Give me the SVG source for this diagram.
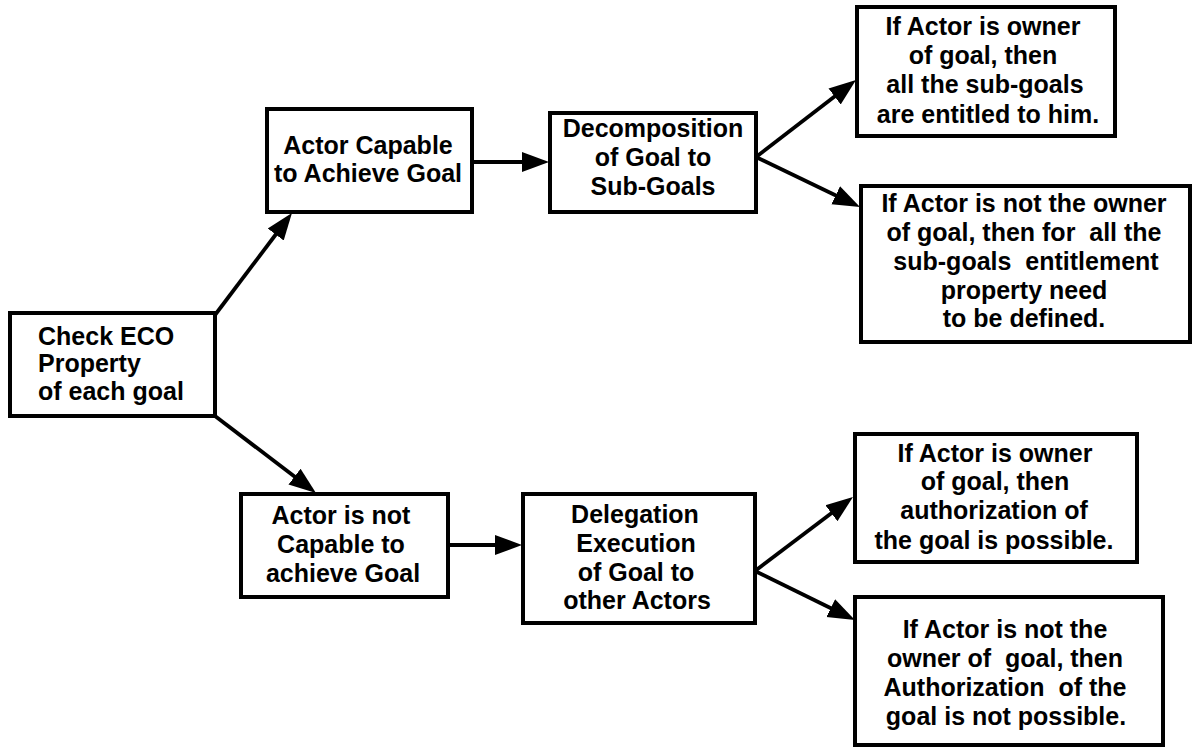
<svg xmlns="http://www.w3.org/2000/svg" width="1194" height="751" viewBox="0 0 1194 751">
  <style>
    .box { fill: #ffffff; stroke: #000000; stroke-width: 4; }
    .lbl { font-family: "Liberation Sans", Arial, sans-serif; font-size: 25px; font-weight: bold; fill: #000000; }
    .c { text-anchor: middle; }
    .edge { fill: none; stroke: #000000; stroke-width: 3.8; marker-end: url(#arrow); }
  </style>
  <defs>
    <marker id="arrow" markerUnits="userSpaceOnUse" markerWidth="30" markerHeight="22" refX="2" refY="11" orient="auto">
      <path d="M0,1 L27,11 L0,21 Z" fill="#000000"/>
    </marker>
  </defs>
  <rect width="1194" height="751" fill="#ffffff"/>

  <!-- connectors -->
  <g id="connectors">
    <line class="edge" x1="215" y1="315" x2="276.9" y2="233"/>
    <line class="edge" x1="215" y1="416" x2="296.1" y2="477.8"/>
    <line class="edge" x1="472" y1="162" x2="524" y2="162"/>
    <line class="edge" x1="756" y1="157" x2="836.2" y2="95.3"/>
    <line class="edge" x1="756" y1="157" x2="837.5" y2="196.2"/>
    <line class="edge" x1="448" y1="545" x2="497" y2="545"/>
    <line class="edge" x1="755" y1="571" x2="833" y2="512.1"/>
    <line class="edge" x1="755" y1="571" x2="832.5" y2="609"/>
  </g>

  <g id="check-eco">
    <rect class="box" x="10" y="313" width="205" height="103"/>
    <text class="lbl" x="38" y="345">Check ECO</text>
    <text class="lbl" x="38" y="372">Property</text>
    <text class="lbl" x="38" y="400">of each goal</text>
  </g>

  <g id="actor-capable">
    <rect class="box" x="267" y="109" width="205" height="103"/>
    <text class="lbl c" x="368" y="154">Actor Capable</text>
    <text class="lbl c" x="368" y="182">to Achieve Goal</text>
  </g>

  <g id="decomposition">
    <rect class="box" x="550" y="113" width="206" height="99"/>
    <text class="lbl c" x="653" y="137">Decomposition</text>
    <text class="lbl c" x="653" y="166">of Goal to</text>
    <text class="lbl c" x="653" y="195">Sub-Goals</text>
  </g>

  <g id="owner-entitled">
    <rect class="box" x="857" y="7" width="258" height="129"/>
    <text class="lbl c" x="983" y="35">If Actor is owner</text>
    <text class="lbl c" x="983" y="64">of goal, then</text>
    <text class="lbl c" x="985" y="93">all the sub-goals</text>
    <text class="lbl c" x="988" y="123">are entitled to him.</text>
  </g>

  <g id="not-owner-entitlement">
    <rect class="box" x="861" y="186" width="329" height="156"/>
    <text class="lbl c" x="1024" y="212" xml:space="preserve">If Actor is not the owner</text>
    <text class="lbl c" x="1024" y="241" xml:space="preserve">of goal, then for  all the</text>
    <text class="lbl c" x="1026" y="270" xml:space="preserve">sub-goals  entitlement</text>
    <text class="lbl c" x="1024" y="299">property need</text>
    <text class="lbl c" x="1024" y="327">to be defined.</text>
  </g>

  <g id="actor-not-capable">
    <rect class="box" x="241" y="494" width="207" height="103"/>
    <text class="lbl c" x="341" y="524">Actor is not</text>
    <text class="lbl c" x="341" y="553">Capable to</text>
    <text class="lbl c" x="343" y="582">achieve Goal</text>
  </g>

  <g id="delegation">
    <rect class="box" x="523" y="494" width="232" height="129"/>
    <text class="lbl c" x="635" y="523">Delegation</text>
    <text class="lbl c" x="636" y="552">Execution</text>
    <text class="lbl c" x="636" y="581">of Goal to</text>
    <text class="lbl c" x="637" y="609">other Actors</text>
  </g>

  <g id="owner-authorization">
    <rect class="box" x="855" y="434" width="282" height="128"/>
    <text class="lbl c" x="995" y="462">If Actor is owner</text>
    <text class="lbl c" x="995" y="490">of goal, then</text>
    <text class="lbl c" x="994" y="519">authorization of</text>
    <text class="lbl c" x="994" y="549">the goal is possible.</text>
  </g>

  <g id="not-owner-authorization">
    <rect class="box" x="855" y="597" width="308" height="148"/>
    <text class="lbl c" x="1005" y="638">If Actor is not the</text>
    <text class="lbl c" x="1005" y="667" xml:space="preserve">owner of  goal, then</text>
    <text class="lbl c" x="1005" y="696" xml:space="preserve">Authorization  of the</text>
    <text class="lbl c" x="1006" y="725">goal is not possible.</text>
  </g>
</svg>
